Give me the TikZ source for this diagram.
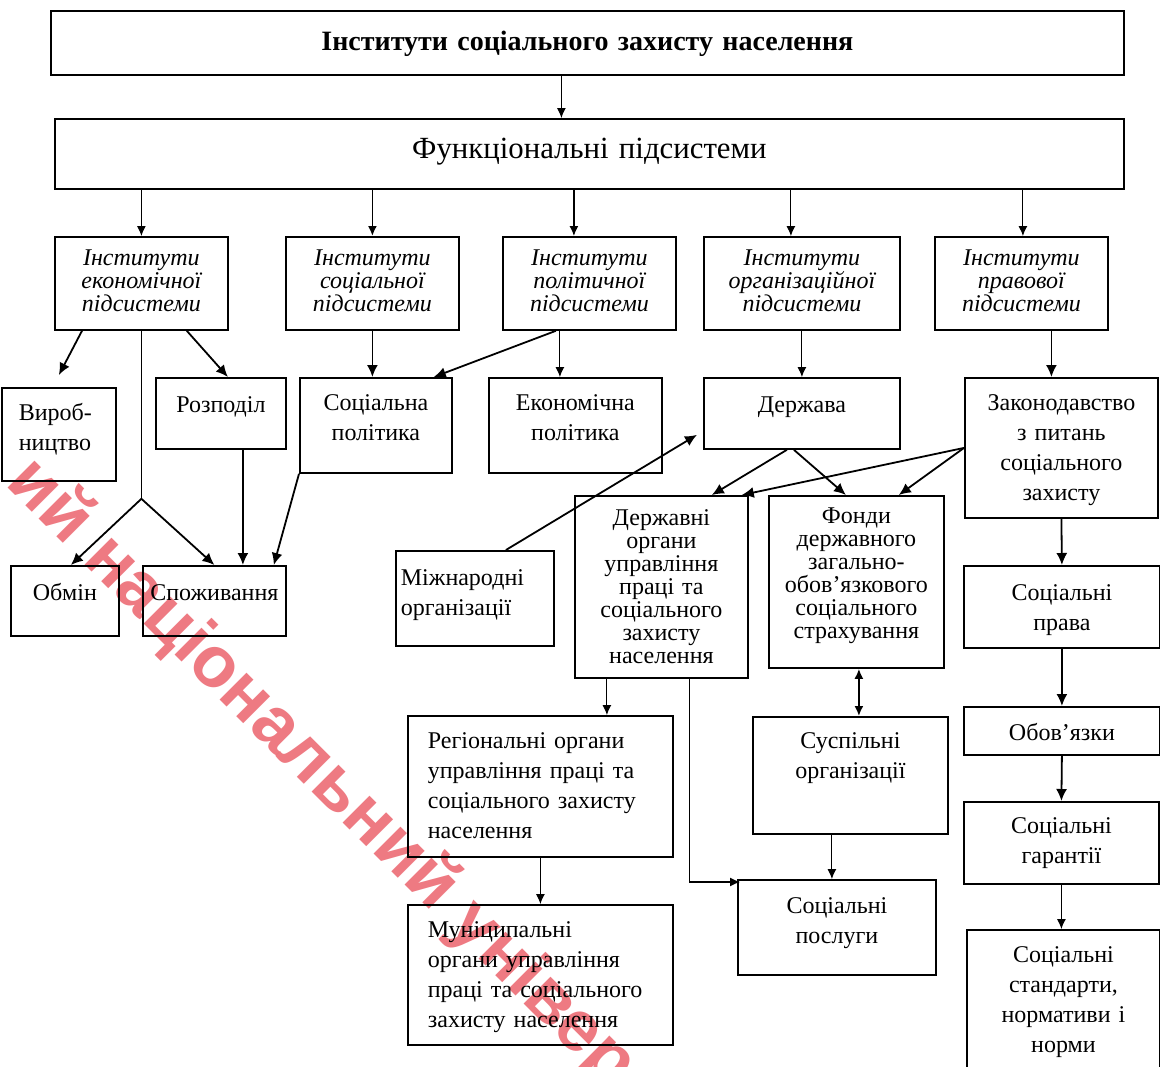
\documentclass[tikz,border=0pt]{standalone}
\usepackage{fontspec}
\setmainfont{Liberation Serif}
\newfontfamily\wmfont{Liberation Sans}
\usetikzlibrary{arrows.meta,calc}
\newcommand{\px}{0.5pt}
\definecolor{wmred}{RGB}{238,122,130}

\tikzset{
  box/.style={draw, line width=0.9pt, inner sep=0pt, anchor=north west, align=center},
  lbox/.style={align=left, inner xsep=#1},
  arr/.style={-{Latex[length=6pt,width=5.5pt]}, line width=0.9pt},
  tarr/.style={-{Latex[length=5pt,width=4.5pt]}, line width=0.55pt},
  inst/.style={font=\itshape\fontsize{12}{11.5}\selectfont},
  tight/.style={font=\fontsize{12}{11.5}\selectfont},
  wmark/.style={font=\wmfont\bfseries\fontsize{36}{36}\selectfont, text=wmred, inner sep=0pt},
}
% box from (x1,y1) to (x2,y2), first baseline at y
\newcommand{\blk}[7][]{\node[box, #1, text width=(#5-#3)*\px-2*\pgfkeysvalueof{/pgf/inner xsep}, text height=(#7-#4)*\px, text depth=(#6-#7)*\px] (#2) at (#3,#4)}

\begin{document}
\begin{tikzpicture}[x=\px, y=-\px, font=\fontsize{12}{15}\selectfont]
    \useasboundingbox (0,0) rectangle (1160,1066);

    % top levels
    \blk[font=\bfseries\fontsize{14}{16}\selectfont]{top}{50}{10}{1123}{74}{50} {Інститути соціального захисту населення};
    \blk[font=\fontsize{15.4}{17}\selectfont]{func}{54}{118}{1123}{188}{158} {Функціональні підсистеми};

    % institutes
    \blk[inst]{ie}{54}{236}{227}{329}{265} {Інститути\\економічної\\підсистеми};
    \blk[inst]{is}{285}{236}{458}{329}{265} {Інститути\\соціальної\\підсистеми};
    \blk[inst]{ip}{502}{236}{675}{329}{265} {Інститути\\політичної\\підсистеми};
    \blk[inst]{io}{703}{236}{899}{329}{265} {Інститути\\організаційної\\підсистеми};
    \blk[inst]{il}{934}{236}{1107}{329}{265} {Інститути\\правової\\підсистеми};

    % second row
    \blk[lbox=8.5pt]{vyr}{1}{387}{115}{480}{420} {Вироб-\\ництво};
    \blk{rozp}{155}{377}{285}{448}{412} {Розподіл};
    \blk{sp}{299}{377}{451}{472}{410} {Соціальна\\політика};
    \blk{ep}{488}{377}{661}{472}{410} {Економічна\\політика};
    \blk{derzh}{703}{377}{899}{448}{412} {Держава};
    \blk{zak}{964}{377}{1157}{517}{410} {Законодавство\\з питань\\соціального\\захисту};

    % lower boxes
    \blk{obm}{10}{565}{118}{635}{600} {Обмін};
    \blk{spozh}{142}{565}{285}{635}{600} {Споживання};
    \blk[lbox=2.5pt]{mizh}{395}{550}{553}{645}{585} {Міжнародні\\організації};
    \blk[tight]{dorg}{574}{495}{747}{677}{525} {Державні\\органи\\управління\\праці та\\соціального\\захисту\\населення};
    \blk[tight]{fond}{768}{495}{943}{667}{523} {Фонди\\державного\\загально-\\обов’язкового\\соціального\\страхування};
    \blk{sprava}{963}{565}{1159}{647}{600} {Соціальні\\права};
    \blk{oboy}{963}{706}{1159}{754}{740} {Обов’язки};
    \blk[lbox=10pt]{reg}{407}{715}{672}{856}{748} {Регіональні органи\\управління праці та\\соціального захисту\\населення};
    \blk[lbox=10pt]{mun}{407}{904}{672}{1044}{937} {Муніципальні\\органи управління\\праці та соціального\\захисту населення};
    \blk{susp}{752}{716}{947}{833}{748} {Суспільні\\організації};
    \blk{posl}{737}{879}{935}{974}{913} {Соціальні\\послуги};
    \blk{gar}{963}{801}{1158}{883}{833} {Соціальні\\гарантії};
    \blk{stand}{966}{929}{1159}{1090}{962} {Соціальні\\стандарти,\\нормативи і\\норми};

    % arrows from the top
    \draw[tarr] ([xshift=-13pt]top.south) -- ([xshift=-13pt]top.south |- func.north);
    \foreach \n/\s/\w in {ie/0/0.55, is/0/0.9, ip/-7.75/0.7, io/-5.5/0.55, il/0.75/0.55}
        \draw[tarr, line width=\w pt] ([xshift=\s pt]\n.north |- func.south) -- ([xshift=\s pt]\n.north);

    % economic subsystem
    \draw[arr] ([xshift=14pt]ie.south west) -- ([yshift=6pt]vyr.north);
    \draw[arr] ([xshift=-21pt]ie.south east) -- ([xshift=3.5pt]rozp.north);
    \coordinate (split) at ([yshift=-84pt]ie.south);
    \draw[line width=0.55pt] (ie.south) -- (split);
    \draw[arr] (split) -- ([xshift=3pt]obm.north);
    \draw[arr] (split) -- (spozh.north);
    \draw[arr] ([xshift=11pt]rozp.south) -- ([xshift=11pt]rozp.south |- spozh.north);
    \draw[arr] (sp.south west) -- ([xshift=-6.5pt]spozh.north east);

    % social and political subsystems
    \draw[arr] (is.south) -- (is.south |- sp.north);
    \draw[arr] ([xshift=-16.75pt]ip.south) -- ([xshift=-9.5pt]sp.north east);
    \draw[tarr] ([xshift=-14.75pt]ip.south) -- ([xshift=-14.75pt]ip.south |- ep.north);

    % organisational subsystem
    \draw[tarr] (io.south) -- (derzh.north);
    \draw[arr] ([xshift=15.5pt]mizh.north) -- ([xshift=-3pt,yshift=7.5pt]derzh.south west);
    \draw[arr] ([xshift=-7.5pt]derzh.south) -- ([xshift=-18.5pt]dorg.north east);
    \draw[arr] ([xshift=-4pt]derzh.south) -- ([xshift=-5.25pt]fond.north);
    \draw[tarr] ([xshift=-27.25pt]dorg.south) -- ([xshift=-27.25pt]dorg.south |- reg.north);
    \draw[tarr] (reg.south) -- (reg.south |- mun.north);
    \draw[tarr] ([xshift=14.25pt]dorg.south) |- ([xshift=1.5pt,yshift=-1.5pt]posl.north west);
    \draw[arr, {Latex[length=5pt,width=4.5pt]}-{Latex[length=5pt,width=4.5pt]}] ([xshift=1.25pt]fond.south) -- ([xshift=1.25pt]fond.south |- susp.north);
    \draw[tarr] ([xshift=-2.5pt]posl.north |- susp.south) -- ([xshift=-2.5pt]posl.north);

    % legal subsystem
    \draw[arr] ([xshift=-5pt]zak.north |- il.south) -- ([xshift=-5pt]zak.north);
    \draw[arr] (zak.west) -- ([xshift=-3.5pt]dorg.north east);
    \draw[arr] (zak.west) -- ([xshift=-23pt]fond.north east);
    \draw[arr] (zak.south) -- (sprava.north);
    \draw[arr] (sprava.south) -- (oboy.north);
    \draw[arr] (oboy.south) -- (gar.north);
    \draw[tarr] (gar.south) -- (gar.south |- stand.north);

    % watermark
    \begin{scope}[blend mode=multiply]
        \clip (0,0) rectangle (1160,1066);
        \node[wmark, rotate=-45, anchor=base west] (wm) at (4,484) {ий національний університет};
    \end{scope}
\end{tikzpicture}
\end{document}
